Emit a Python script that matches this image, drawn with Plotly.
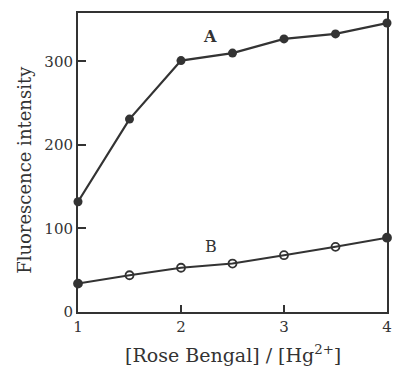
import plotly.graph_objects as go

ratio = [1, 1.5, 2, 2.5, 3, 3.5, 4]
series_a = [132, 231, 301, 310, 327, 333, 346]
series_b = [34, 44, 53, 58, 68, 78, 89]
b_symbols = ["circle", "circle-open", "circle-open", "circle-open", "circle-open", "circle-open", "circle"]
x_ticks = [1, 2, 3, 4]
y_ticks = [0, 100, 200, 300]

ink = "#333333"
font_family = "DejaVu Serif, Liberation Serif, serif"

fig = go.Figure()
fig.add_trace(go.Scatter(
    x=ratio, y=series_a, mode="lines+markers",
    line=dict(color=ink, width=2.2),
    marker=dict(symbol="circle", size=9, color=ink),
    showlegend=False, cliponaxis=False))
fig.add_trace(go.Scatter(
    x=ratio, y=series_b, mode="lines+markers",
    line=dict(color=ink, width=2),
    marker=dict(symbol=b_symbols, size=8, color=ink, line=dict(color=ink, width=1.8)),
    showlegend=False, cliponaxis=False))

fig.add_annotation(x=2.28, y=330, text="<b>A</b>", showarrow=False,
                   font=dict(family=font_family, size=16, color=ink))
fig.add_annotation(x=2.29, y=78, text="B", showarrow=False,
                   font=dict(family=font_family, size=16, color=ink))

fig.add_annotation(xref="paper", yref="paper", x=0.5, y=-0.14, yanchor="middle",
                   text="[Rose Bengal] / [Hg<sup>2+</sup>]", showarrow=False,
                   font=dict(family=font_family, size=19, color=ink))
fig.add_annotation(xref="paper", yref="paper", x=-0.172, y=0.475, textangle=-90,
                   xanchor="center", yanchor="middle",
                   text="Fluorescence intensity", showarrow=False,
                   font=dict(family=font_family, size=18, color=ink))

fig.update_xaxes(range=[1, 4], tickvals=x_ticks, ticks="inside", ticklen=7, tickwidth=2,
                 tickcolor=ink, showline=True, linecolor=ink, linewidth=2, mirror=True,
                 showgrid=False, zeroline=False,
                 tickfont=dict(family=font_family, size=15, color=ink))
fig.update_yaxes(range=[0, 358], tickvals=y_ticks, ticks="inside", ticklen=8, tickwidth=2,
                 tickcolor=ink, showline=True, linecolor=ink, linewidth=2, mirror=True,
                 showgrid=False, zeroline=False,
                 tickfont=dict(family=font_family, size=15, color=ink))

fig.update_layout(width=395, height=367, margin=dict(l=78, r=3, t=13, b=55),
                  paper_bgcolor="white", plot_bgcolor="white")
fig.write_html("out.html")
